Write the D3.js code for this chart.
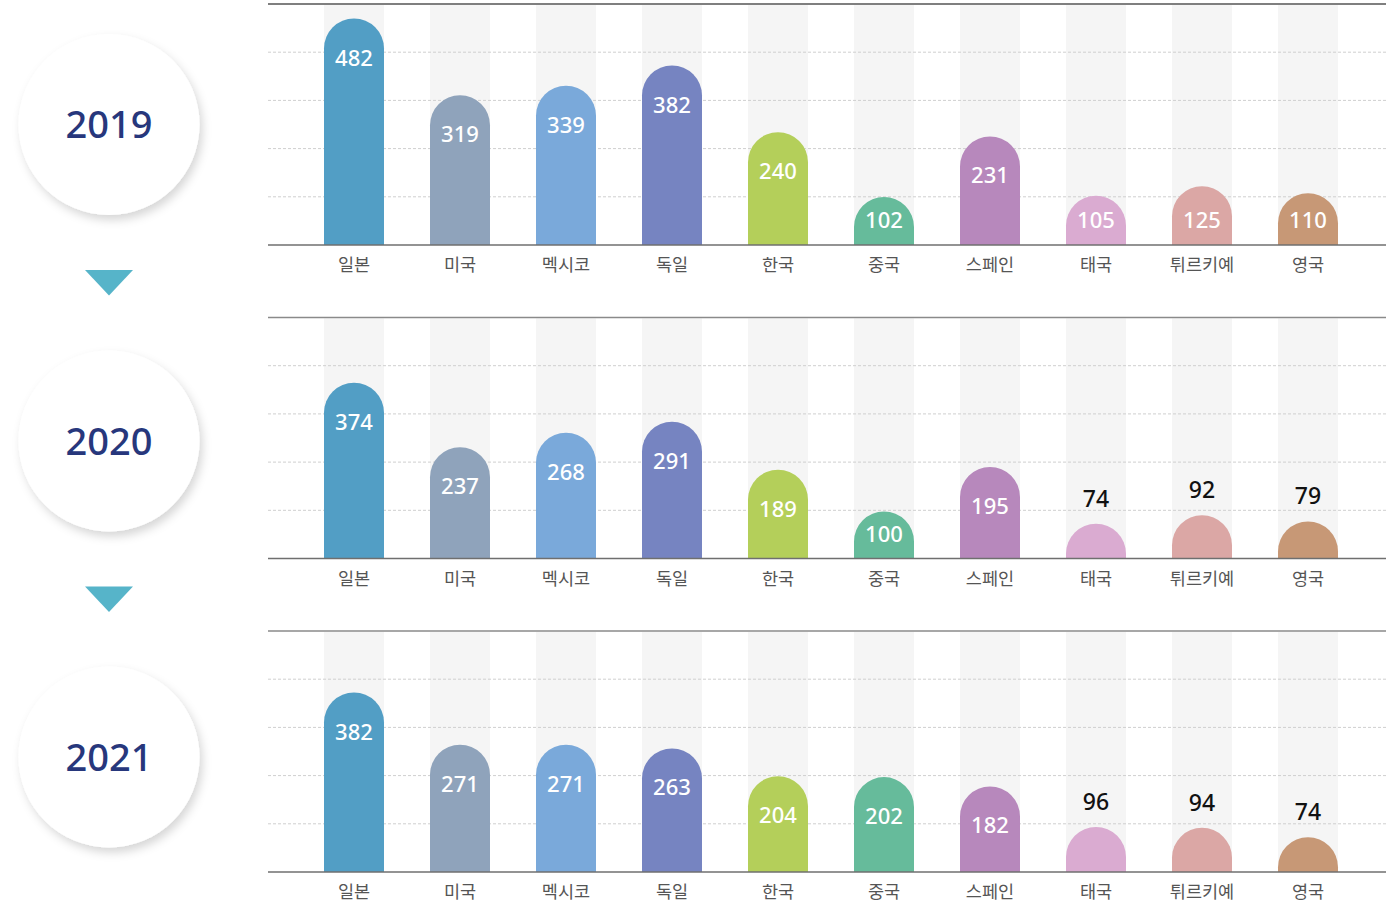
<!DOCTYPE html>
<html>
<head>
<meta charset="utf-8">
<script src="https://cdn.jsdelivr.net/npm/d3@7"></script>
<style>
  body { margin: 0; background: #fff; }
  svg { display: block; font-family: "Noto Sans CJK KR", "Noto Sans", sans-serif; }
</style>
</head>
<body>
<div id="chart-area"></div>
<script>
const countries = ["일본", "미국", "멕시코", "독일", "한국", "중국", "스페인", "태국", "튀르키예", "영국"];
const years = ["2019", "2020", "2021"];
const values2019 = [482, 319, 339, 382, 240, 102, 231, 105, 125, 110];
const values2020 = [374, 237, 268, 291, 189, 100, 195, 74, 92, 79];
const values2021 = [382, 271, 271, 263, 204, 202, 182, 96, 94, 74];
const colors = ["#529ec5", "#8fa3bb", "#7aa9da", "#7684c1", "#b4cf5a", "#66bb9b", "#b788bc", "#daabd1", "#dba7a5", "#c79876"];

const seriesByYear = [values2019, values2020, values2021];

const width = 1386, height = 908;
const plotH = 241;
const panelTops = [4, 317.5, 631];
const circleYs = [124.5, 441, 757];

const svg = d3.select("#chart-area")
    .append("svg")
    .attr("width", width)
    .attr("height", height);

const defs = svg.append("defs");
const shadow = defs.append("filter")
    .attr("id", "shadow")
    .attr("x", "-30%").attr("y", "-30%")
    .attr("width", "160%").attr("height", "160%");
shadow.append("feDropShadow")
    .attr("dx", 3).attr("dy", 5)
    .attr("stdDeviation", 5)
    .attr("flood-color", "#000")
    .attr("flood-opacity", 0.16);

const x = d3.scaleBand()
    .domain(countries)
    .range([271, 1391])
    .paddingInner(0.434)
    .paddingOuter(0.5);

const color = d3.scaleOrdinal().domain(countries).range(colors);

// year bubbles + arrows
years.forEach((yr, i) => {
    const cy = circleYs[i];
    svg.append("circle")
        .attr("cx", 109).attr("cy", cy).attr("r", 90.5)
        .attr("fill", "#fff")
        .attr("filter", "url(#shadow)");
    svg.append("text")
        .attr("x", 109).attr("y", cy + 13.5)
        .attr("text-anchor", "middle")
        .attr("font-family", "'Noto Sans', sans-serif")
        .attr("font-size", "38px")
        .attr("font-weight", 500)
        .attr("fill", "#27377c")
        .text(yr);
    if (i < years.length - 1) {
        const ty = cy + 145.5;
        svg.append("path")
            .attr("d", `M85,${ty} L133,${ty} L109,${ty + 25.5} Z`)
            .attr("fill", "#56b4c9");
    }
});

seriesByYear.forEach((vals, i) => {
    const top = panelTops[i];
    const base = top + plotH;
    const y = d3.scaleLinear().domain([0, 513]).range([base, top]);
    const g = svg.append("g").attr("class", "panel-" + years[i]);
    const bw = x.bandwidth();
    const r = bw / 2;

    // gray stripes
    g.selectAll("rect.stripe")
        .data(countries)
        .enter()
        .append("rect")
        .attr("class", "stripe")
        .attr("x", d => x(d))
        .attr("y", top + 1)
        .attr("width", bw)
        .attr("height", plotH - 1)
        .attr("fill", "#f5f5f5");

    // dashed gridlines
    g.selectAll("line.grid")
        .data([1, 2, 3, 4])
        .enter()
        .append("line")
        .attr("class", "grid")
        .attr("x1", 268).attr("x2", width)
        .attr("y1", k => top + k * plotH / 5)
        .attr("y2", k => top + k * plotH / 5)
        .attr("stroke", "#cfcfcf")
        .attr("stroke-width", 1)
        .attr("stroke-dasharray", "3,2");

    // top rule
    g.append("line")
        .attr("x1", 268).attr("x2", width)
        .attr("y1", top).attr("y2", top)
        .attr("stroke", i === 0 ? "#555" : "#8a8a8a")
        .attr("stroke-width", 1.5);

    const clipId = "clip-" + years[i];
    defs.append("clipPath").attr("id", clipId)
        .append("rect")
        .attr("x", 0).attr("y", top)
        .attr("width", width).attr("height", plotH);

    const data = countries.map((c, j) => ({ country: c, value: vals[j] }));

    // rounded bars
    g.append("g")
        .attr("clip-path", `url(#${clipId})`)
        .selectAll("path.bar")
        .data(data)
        .enter()
        .append("path")
        .attr("class", "bar")
        .attr("fill", d => color(d.country))
        .attr("d", d => {
            const x0 = x(d.country);
            const yt = y(d.value);
            return `M${x0},${base + 2} L${x0},${yt + r} A${r},${r} 0 0 1 ${x0 + bw},${yt + r} L${x0 + bw},${base + 2} Z`;
        });

    // baseline
    g.append("line")
        .attr("x1", 268).attr("x2", width)
        .attr("y1", base).attr("y2", base)
        .attr("stroke", "#6f6f6f")
        .attr("stroke-width", 1.5);

    // value labels
    g.selectAll("text.value")
        .data(data)
        .enter()
        .append("text")
        .attr("class", "value")
        .attr("x", d => x(d.country) + r)
        .attr("y", d => d.value < 100 ? y(d.value) - 17 : Math.min(y(d.value) + 47, base - 17))
        .attr("text-anchor", "middle")
        .attr("font-family", "'Noto Sans', sans-serif")
        .attr("font-size", d => d.value < 100 ? "23px" : "22px")
        .attr("font-weight", 500)
        .attr("fill", d => d.value < 100 ? "#111" : "#fff")
        .text(d => d.value);

    // category axis
    const xAxisCall = d3.axisBottom(x).tickSize(0).tickPadding(0);
    const ax = g.append("g")
        .attr("class", "x axis")
        .attr("transform", `translate(0, ${base})`)
        .call(xAxisCall);
    ax.select(".domain").remove();
    ax.selectAll("text")
        .attr("y", 26)
        .attr("dy", 0)
        .attr("font-family", "'Noto Sans CJK KR', sans-serif")
        .attr("font-size", "17.5px")
        .attr("fill", "#555");
});
</script>
</body>
</html>
